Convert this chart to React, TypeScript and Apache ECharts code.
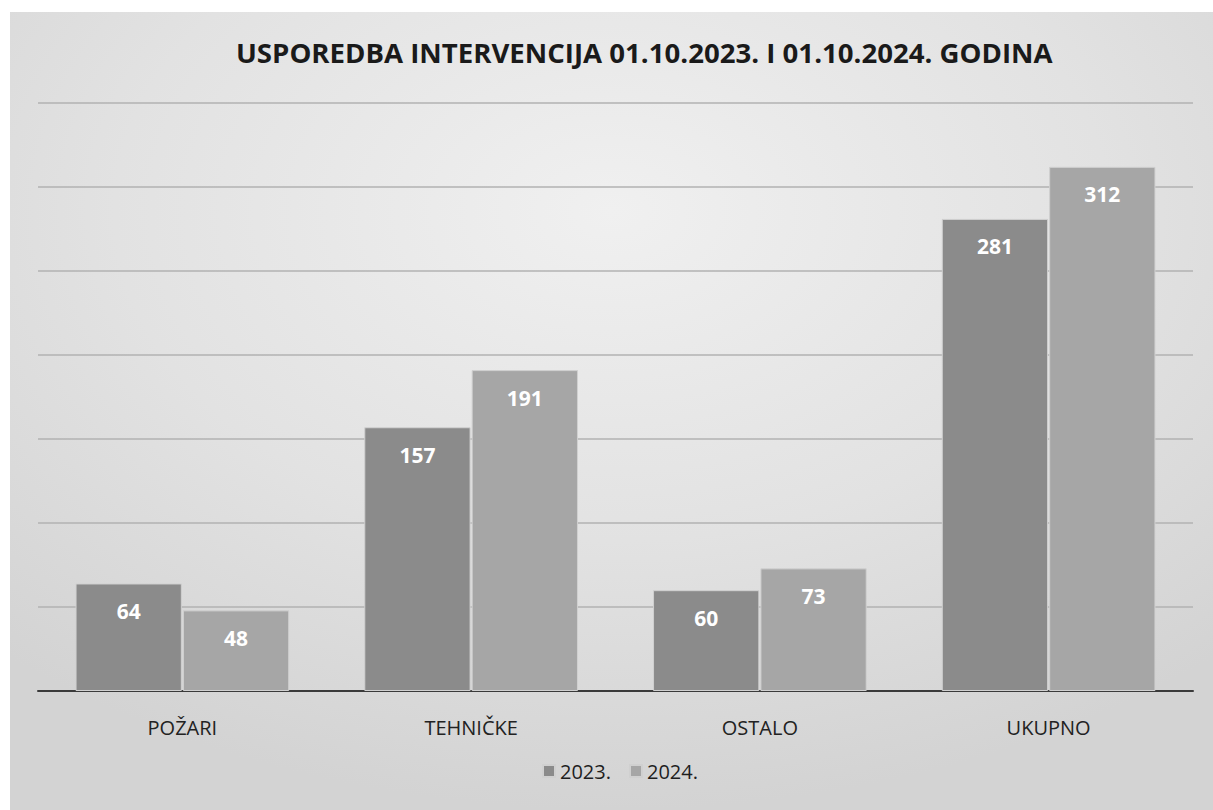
import React, { useEffect, useRef } from "react";
import * as echarts from "echarts";

const categories = ["POŽARI", "TEHNIČKE", "OSTALO", "UKUPNO"];
const seriesNames = ["2023.", "2024."];
const values2023 = [64, 157, 60, 281];
const values2024 = [48, 191, 73, 312];
const titleText = "USPOREDBA INTERVENCIJA 01.10.2023. I 01.10.2024. GODINA";

export default function App() {
  const ref = useRef<HTMLDivElement>(null);
  useEffect(() => {
    if (!ref.current) return;
    const chart = echarts.init(ref.current, null, { renderer: "svg" });
    const labelCfg = {
      show: true,
      position: "insideTop",
      distance: 17,
      color: "#ffffff",
      fontWeight: "bold",
      fontSize: 21,
      fontFamily: "Open Sans",
    };
    chart.setOption({
      animation: false,
      backgroundColor: "#ffffff",
      graphic: [
        {
          type: "rect",
          z: -10,
          shape: { x: 10, y: 12, width: 1203, height: 798 },
          style: {
            fill: new echarts.graphic.RadialGradient(0.5, 0.25, 0.75, [
              { offset: 0, color: "#f0f0f0" },
              { offset: 0.55, color: "#e2e2e2" },
              { offset: 1, color: "#d3d3d3" },
            ]),
          },
        },
      ],
      title: {
        text: titleText,
        left: 231,
        top: 33,
        textStyle: {
          fontFamily: "Open Sans",
          fontWeight: "bold",
          fontSize: 27.6,
          color: "#1a1a1a",
        },
      },
      legend: {
        bottom: 24,
        left: 537,
        itemWidth: 12,
        itemHeight: 12,
        itemGap: 18,
        icon: "rect",
        textStyle: { fontSize: 20, color: "#1e1e1e", fontFamily: "Open Sans" },
        data: seriesNames,
      },
      grid: { left: 38, right: 20, top: 103, bottom: 119, containLabel: false },
      xAxis: {
        type: "category",
        data: categories,
        axisTick: { show: false },
        axisLine: { lineStyle: { color: "#3a3a3a", width: 2 } },
        axisLabel: {
          fontSize: 20,
          color: "#222",
          margin: 26,
          fontFamily: "Open Sans",
        },
      },
      yAxis: {
        type: "value",
        min: 0,
        max: 350,
        interval: 50,
        axisLabel: { show: false },
        axisLine: { show: false },
        axisTick: { show: false },
        splitLine: { lineStyle: { color: "#b2b2b2", width: 1.5 } },
      },
      series: [
        {
          name: seriesNames[0],
          type: "bar",
          data: values2023,
          barGap: "1%",
          barCategoryGap: "26%",
          itemStyle: { color: "#8b8b8b", borderColor: "#d0d0d0", borderWidth: 1 },
          label: labelCfg,
        },
        {
          name: seriesNames[1],
          type: "bar",
          data: values2024,
          itemStyle: { color: "#a6a6a6", borderColor: "#d0d0d0", borderWidth: 1 },
          label: labelCfg,
        },
      ],
    });
    return () => chart.dispose();
  }, []);
  return (
    <div
      ref={ref}
      style={{ position: "absolute", left: 0, top: 0, width: 1213, height: 810 }}
    />
  );
}
